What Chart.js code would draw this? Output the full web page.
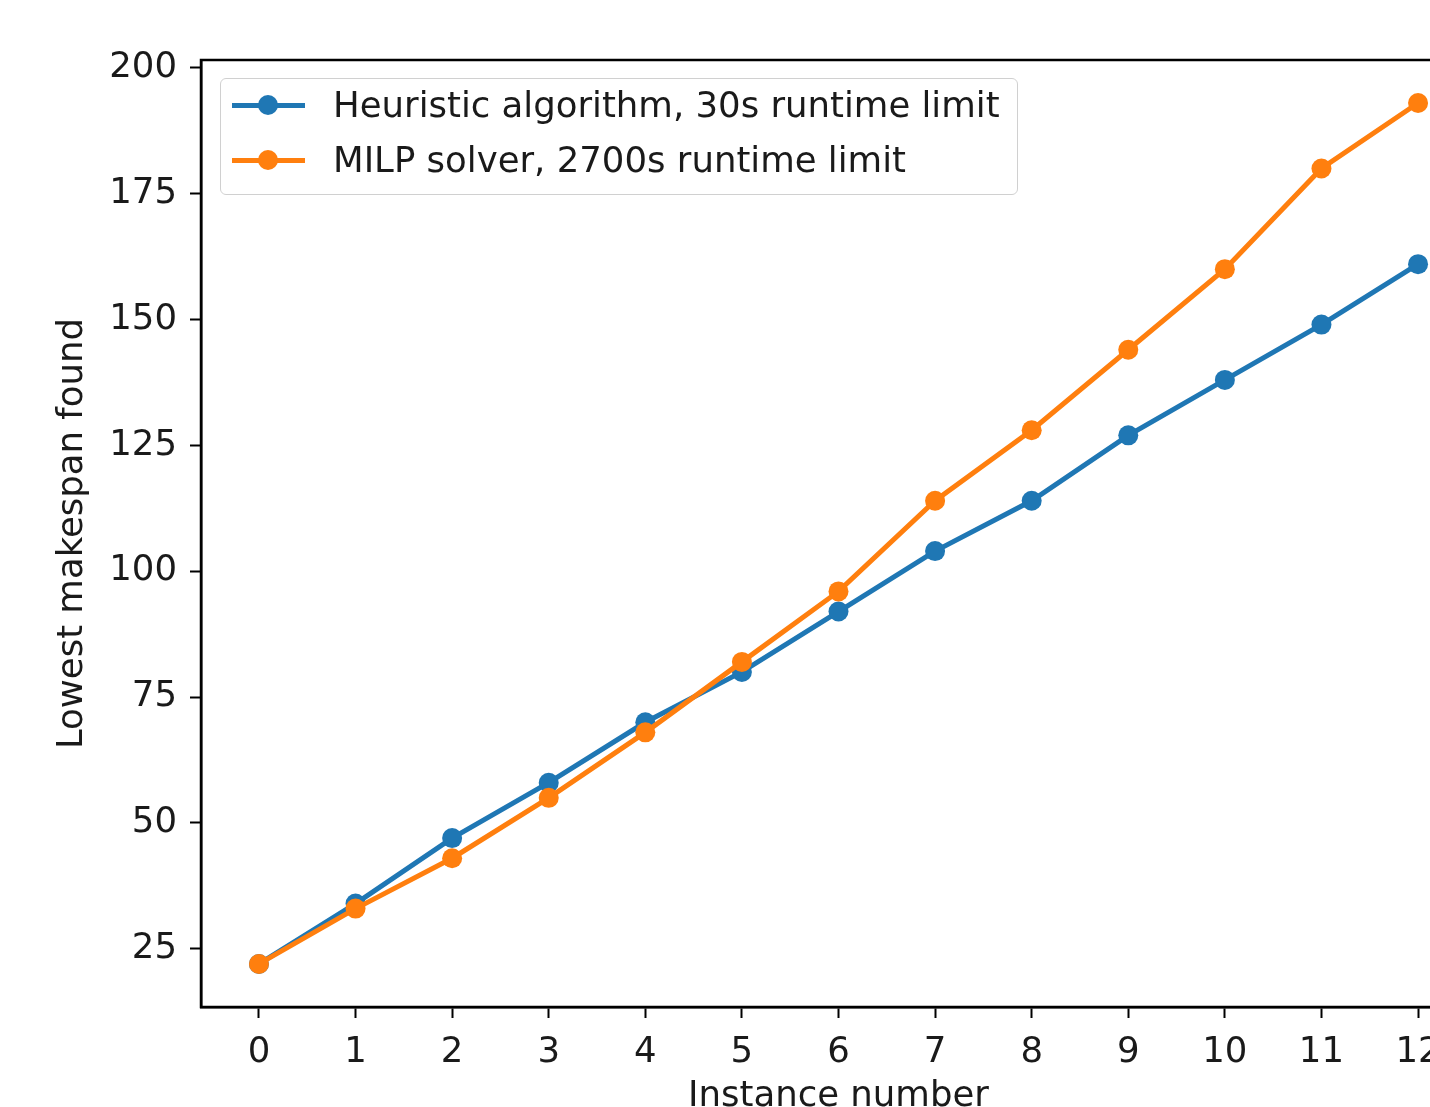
<!DOCTYPE html>
<html>
<head>
<meta charset="utf-8">
<script src="https://cdn.jsdelivr.net/npm/chart.js@4.4.0/dist/chart.umd.min.js"></script>
<style>
  html, body { margin: 0; padding: 0; overflow: hidden; background: #fff; }
  #wrap { position: relative; width: 1540px; height: 1140px; }
  #legend {
    position: absolute; left: 220px; top: 78px; width: 796px; height: 115px;
    border: 1.5px solid #d0d0d0; border-radius: 6px; background: rgba(255,255,255,0.8);
    font-family: "DejaVu Sans", sans-serif; font-size: 35.5px; color: #1a1a1a;
  }
  .row { position: absolute; left: 0; height: 40px; }
  .row .ln { position: absolute; left: 11px; width: 73px; height: 5px; top: 18px; }
  .row .dot { position: absolute; left: 37px; width: 20px; height: 20px; top: 10px; border-radius: 50%; }
  .row .tx { position: absolute; left: 112px; top: 0; line-height: 40px; white-space: nowrap; }
</style>
</head>
<body>
<div id="wrap">
  <canvas id="myChart" width="1540" height="1140"></canvas>
  <div id="legend"></div>
</div>
<script>
// data
var instances = [0, 1, 2, 3, 4, 5, 6, 7, 8, 9, 10, 11, 12];
var heuristic = [22, 34, 47, 58, 70, 80, 92, 104, 114, 127, 138, 149, 161];
var milp = [22, 33, 43, 55, 68, 82, 96, 114, 128, 144, 160, 180, 193];
var seriesNames = ['Heuristic algorithm, 30s runtime limit', 'MILP solver, 2700s runtime limit'];
var seriesColors = ['#1f77b4', '#ff7f0e'];

var font = { family: 'DejaVu Sans', size: 35.5 };

// matplotlib-style 5% margins
var allY = heuristic.concat(milp);
var yMin = Math.min(...allY), yMax = Math.max(...allY);
var yPad = (yMax - yMin) * 0.05;
var xPad = (instances[instances.length - 1] - instances[0]) * 0.05;

function toPoints(values) {
    return values.map(function (v, i) {
        return { x: instances[i], y: v };
    });
}

// draws the top and right spines too
var frame = {
    id: 'frame',
    afterDatasetsDraw: function (chart) {
        var a = chart.chartArea, ctx = chart.ctx;
        ctx.save();
        ctx.strokeStyle = '#000';
        ctx.lineWidth = 2.5;
        ctx.strokeRect(a.left, a.top, a.right - a.left, a.bottom - a.top);
        ctx.restore();
    }
};

var datasets = [heuristic, milp].map(function (vals, i) {
    return {
        label: seriesNames[i],
        data: toPoints(vals),
        borderColor: seriesColors[i],
        backgroundColor: seriesColors[i],
        borderWidth: 5,
        pointRadius: 10,
        pointBorderWidth: 0,
        pointHoverRadius: 10,
        fill: false,
        order: 1 - i, // later series drawn on top like matplotlib
    };
});

var ctx = document.getElementById('myChart').getContext('2d');
var myChart = new Chart(ctx, {
    type: 'line',
    data: { datasets: datasets },
    options: {
        responsive: false,
        devicePixelRatio: 1,
        animation: false,
        layout: { padding: { left: 0, top: 60, right: 64, bottom: 0 } },
        plugins: {
            legend: { display: false },
            tooltip: { enabled: false },
        },
        scales: {
            x: {
                type: 'linear',
                min: instances[0] - xPad,
                max: instances[instances.length - 1] + xPad,
                afterBuildTicks: function (s) {
                    s.ticks = s.ticks.filter(function (t) { return Number.isInteger(t.value); });
                },
                afterFit: function (s) { s.height = 133; },
                ticks: { stepSize: 1, includeBounds: false, color: '#1a1a1a', font: font, padding: 13, maxRotation: 0, autoSkip: false },
                grid: { drawOnChartArea: false, tickLength: 11, tickColor: '#000', tickWidth: 2 },
                border: { color: '#000', width: 2.5 },
                title: { display: true, text: 'Instance number', color: '#1a1a1a', font: font, padding: { top: 22, bottom: 22 } },
            },
            y: {
                min: yMin - yPad,
                max: yMax + yPad,
                afterBuildTicks: function (s) {
                    s.ticks = s.ticks.filter(function (t) { return t.value % 25 === 0; });
                },
                afterFit: function (s) { s.width = 201; },
                ticks: { stepSize: 25, includeBounds: false, color: '#1a1a1a', font: font, padding: 13 },
                grid: { drawOnChartArea: false, tickLength: 11, tickColor: '#000', tickWidth: 2 },
                border: { color: '#000', width: 2.5 },
                title: { display: true, text: 'Lowest makespan found', color: '#1a1a1a', font: font, padding: { top: 51 } },
            },
        },
    },
    plugins: [frame],
});

// legend box inside the plot, built from the series
var legend = document.getElementById('legend');
seriesNames.forEach(function (name, i) {
    var row = document.createElement('div');
    row.className = 'row';
    row.style.top = (6 + i * 55) + 'px';
    row.innerHTML = '<div class="ln" style="background:' + seriesColors[i] + '"></div>' +
        '<div class="dot" style="background:' + seriesColors[i] + '"></div>' +
        '<div class="tx">' + name + '</div>';
    legend.appendChild(row);
});
</script>
</body>
</html>
